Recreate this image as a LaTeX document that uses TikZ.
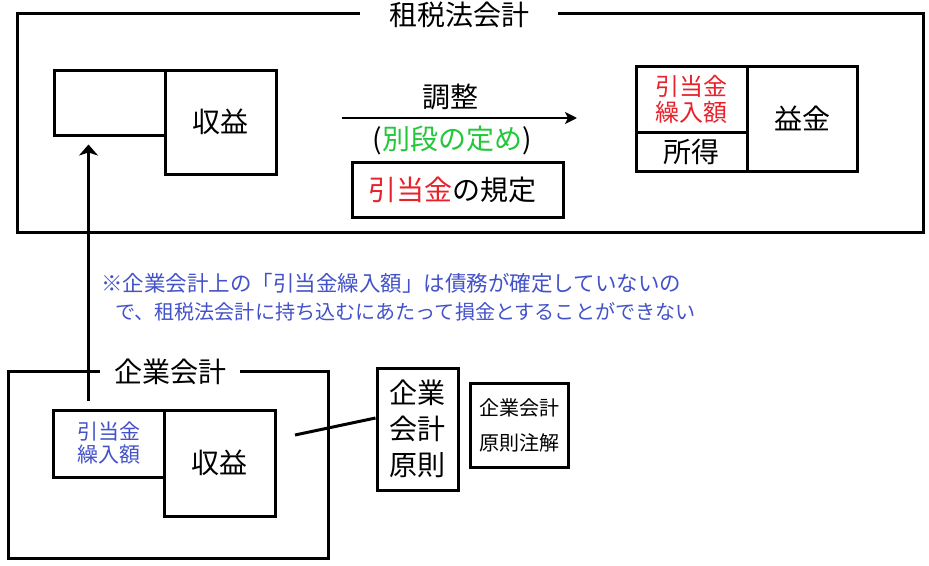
\documentclass[tikz,border=0pt]{standalone}
\usepackage{fontspec}
\setmainfont{Noto Sans CJK JP}
\usetikzlibrary{arrows.meta}
\definecolor{hikired}{HTML}{E8222B}
\definecolor{teigreen}{HTML}{22C83A}
\definecolor{noteblue}{HTML}{4352C8}

\begin{document}
\begin{tikzpicture}[x=1pt,y=-1pt,
  frame/.style={draw, line width=3pt},
  box/.style={draw, line width=3pt, inner sep=0pt, align=center, font=\fontsize{28}{34}\selectfont},
  title/.style={fill=white, inner ysep=2pt, font=\fontsize{28}{34}\selectfont},
  label/.style={inner sep=0pt, align=center, font=\fontsize{28}{34}\selectfont},
  note/.style={anchor=west, text=noteblue, inner sep=0pt}]

\useasboundingbox (0,0) rectangle (929,565);

%% frames
\draw[frame] (17,13) rectangle (923,232);   %% zeiho
\draw[frame] (8,371) rectangle (328,558);   %% kigyo
\node[title, inner xsep=29pt] (zeiho) at (459,15) {租税法会計};
\node[title, inner xsep=14pt] (kigyo) at (170,372) {企業会計};

%% tax side boxes
\node[box, minimum width=111pt, minimum height=65pt] (taxblank) at (109.5,102.5) {};
\node[box, minimum width=111pt, minimum height=104pt] (taxrev) at (220.5,122) {収益};
\node[box, minimum width=111pt, minimum height=66pt, text=hikired,
      font=\fontsize{24}{26}\selectfont] (taxkuri) at (691.5,99) {引当金\\繰入額};
\node[box, minimum width=111pt, minimum height=39pt] (shotoku) at (691.5,151.5) {所得};
\node[box, minimum width=110pt, minimum height=105pt] (ekikin) at (802,118.5) {益金};
\node[box, minimum width=211pt, minimum height=55pt] (kitei) at (457.5,189.5)
  {\textcolor{hikired}{引当金}の規定\hspace*{10pt}};

%% adjustment
\coordinate (adjL) at (342,118);
\coordinate (adjR) at (577,118);
\draw[line width=2.5pt, -{Stealth[length=12pt,width=12pt,inset=3pt]}] (adjL) -- (adjR);
\node[label] (chosei) at (450,97) {調整};
\node[label] (betsudan) at (452,140) {(\textcolor{teigreen}{別段の定め})};

%% corporate side boxes
\node[box, minimum width=111pt, minimum height=67pt, text=noteblue,
      font=\fontsize{21}{23}\selectfont] (kigkuri) at (108.5,443.5) {引当金\\繰入額};
\node[box, minimum width=111pt, minimum height=106pt] (kigrev) at (219.5,463) {収益};
\node[box, minimum width=81pt, minimum height=122pt,
      font=\fontsize{28}{36}\selectfont] (gensoku) at (417.5,429) {企業\\会計\\原則};
\node[box, minimum width=98pt, minimum height=84pt,
      font=\fontsize{20}{35}\selectfont] (chukai) at (519,425) {企業会計\\原則注解};

%% note
\node[note, font=\fontsize{21.5}{26}\selectfont] (note1) at (101,283)
  {※企業会計上の「引当金繰入額」は債務が確定していないの};
\node[note, font=\fontsize{20.1}{26}\selectfont] (note2) at (115,312)
  {で、租税法会計に持ち込むにあたって損金とすることができない};

%% connectors
\draw[line width=3pt, -{Stealth[length=11pt,width=19pt,inset=3pt]}]
  ([xshift=-20pt,yshift=8pt]kigkuri.north) -- ([xshift=-21pt,yshift=-8pt]taxblank.south);
\coordinate (linkend) at (295,435);
\draw[line width=3pt] (linkend) -- ([yshift=11pt]gensoku.west);

\end{tikzpicture}
\end{document}
